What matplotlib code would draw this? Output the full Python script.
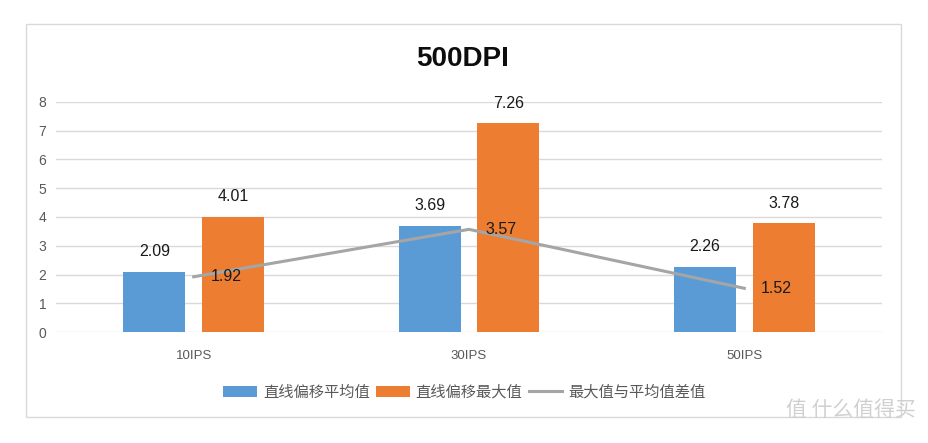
import matplotlib.pyplot as plt
import numpy as np
from matplotlib.patches import Rectangle

# fonts: latin first, CJK fallback
plt.rcParams['font.family'] = ['Liberation Sans', 'Noto Sans CJK SC', 'DejaVu Sans']

# data ===========================================================
categories = ['10IPS', '30IPS', '50IPS']
avg_offset = [2.09, 3.69, 2.26]     # 直线偏移平均值
max_offset = [4.01, 7.26, 3.78]     # 直线偏移最大值
diff_values = [1.92, 3.57, 1.52]    # 最大值与平均值差值
series_names = ['直线偏移平均值', '直线偏移最大值', '最大值与平均值差值']
yticks = [0, 1, 2, 3, 4, 5, 6, 7, 8]

blue = '#5B9BD5'
orange = '#ED7D31'
gray = '#A5A5A5'
text_gray = '#595959'

W, H = 929, 443
fig = plt.figure(figsize=(W / 100, H / 100), dpi=100)

# outer chart border
fig.patches.append(Rectangle((26 / W, 1 - 417 / H), (901 - 26) / W, (417 - 24) / H,
                             transform=fig.transFigure, fill=False,
                             edgecolor='#D9D9D9', linewidth=1))

ax = fig.add_axes([56 / W, 1 - 332 / H, (882 - 56) / W, (332 - 102) / H])

x = np.arange(len(categories))
bw = 0.225
off = 0.143
b1 = ax.bar(x - off, avg_offset, bw, color=blue, label=series_names[0], zorder=2)
b2 = ax.bar(x + off, max_offset, bw, color=orange, label=series_names[1], zorder=2)
ln, = ax.plot(x, diff_values, color=gray, linewidth=2.2, label=series_names[2], zorder=3)

# data labels
for xs, vals in ((x - off, avg_offset), (x + off, max_offset)):
    for xi, v in zip(xs, vals):
        ax.annotate(f'{v:.2f}', (xi, v), xytext=(0, 14.5), textcoords='offset points',
                    ha='center', va='center', fontsize=11.5, color='#1a1a1a')
for xi, v in zip(x, diff_values):
    ax.annotate(f'{v:.2f}', (xi, v), xytext=(12, 0), textcoords='offset points',
                ha='left', va='center', fontsize=11.5, color='#1a1a1a', zorder=4)

ax.set_xlim(-0.5, 2.5)
ax.set_ylim(0, 8)
ax.set_yticks(yticks)
ax.set_xticks(x)
ax.set_xticklabels(categories)
ax.grid(axis='y', color='#D9D9D9', linewidth=1, zorder=0)
ax.set_axisbelow(True)
for s in ax.spines.values():
    s.set_visible(False)
ax.tick_params(axis='y', length=0, pad=7, labelsize=10, labelcolor=text_gray)
ax.tick_params(axis='x', length=0, pad=13, labelsize=9.5, labelcolor=text_gray)

fig.text(463 / W, 1 - 58.5 / H, '500DPI', ha='center', va='center', fontsize=20,
         fontweight='bold', color='#0d0d0d')

fig.legend(handles=[b1, b2, ln], loc='center', bbox_to_anchor=(464.5 / W, 1 - 392 / H),
           ncol=3, frameon=False, labelcolor=text_gray,
           handlelength=2.2, handleheight=0.7, handletextpad=0.4, columnspacing=0.4,
           prop={'family': ['Noto Sans CJK SC'], 'size': 11})

# watermark
fig.text(916 / W, 1 - 410 / H, '值 什么值得买', ha='right', va='center', fontsize=15,
         color='#D0D0D0', family=['Noto Sans CJK SC'])

fig.savefig('out.png', dpi=100)
